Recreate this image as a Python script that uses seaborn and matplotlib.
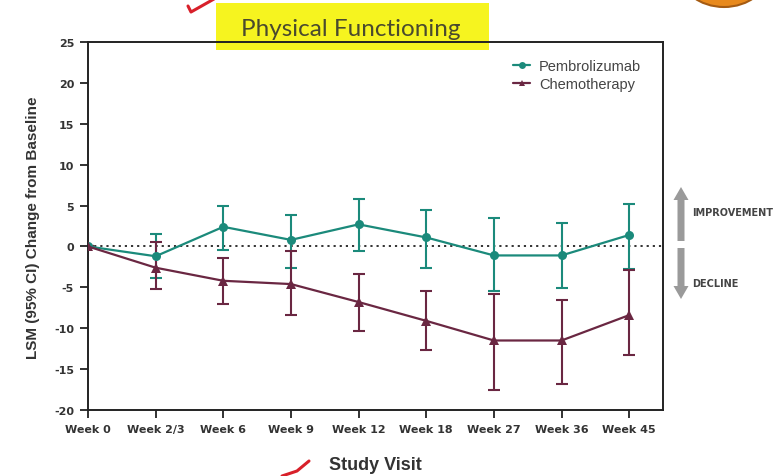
import numpy as np
import pandas as pd
import seaborn as sns
import matplotlib
matplotlib.use("Agg")
import matplotlib.pyplot as plt
from matplotlib.patches import FancyArrow, Ellipse, Rectangle
from matplotlib.lines import Line2D

# ---- data -------------------------------------------------------------
visits = ["Week 0", "Week 2/3", "Week 6", "Week 9", "Week 12",
          "Week 18", "Week 27", "Week 36", "Week 45"]

pembro_lsm = [0.0, -1.2, 2.4, 0.8, 2.7, 1.1, -1.1, -1.1, 1.4]
pembro_lo = [0.0, -3.9, -0.4, -2.6, -0.6, -2.6, -5.5, -5.1, -2.8]
pembro_hi = [0.0, 1.5, 4.9, 3.9, 5.8, 4.5, 3.5, 2.9, 5.2]

chemo_lsm = [0.0, -2.6, -4.2, -4.6, -6.8, -9.1, -11.5, -11.5, -8.4]
chemo_lo = [0.0, -5.2, -7.0, -8.4, -10.3, -12.7, -17.6, -16.8, -13.3]
chemo_hi = [0.0, 0.5, -1.4, -0.5, -3.4, -5.5, -5.8, -6.6, -2.9]

arms = ["Pembrolizumab", "Chemotherapy"]
yticks = [-20, -15, -10, -5, 0, 5, 10, 15, 20, 25]

TEAL = "#1b8a7b"
MAROON = "#6a2742"
W, H = 782, 477

df = pd.DataFrame({
    "pos": list(range(len(visits))) * 2,
    "lsm": pembro_lsm + chemo_lsm,
    "lo": pembro_lo + chemo_lo,
    "hi": pembro_hi + chemo_hi,
    "arm": [arms[0]] * len(visits) + [arms[1]] * len(visits),
})

sns.set_theme(style="ticks")
plt.rcParams["font.family"] = ["Liberation Sans", "DejaVu Sans"]

fig = plt.figure(figsize=(W / 100, H / 100), dpi=100)


def fx(px):
    return px / W


def fy(py):
    return 1 - py / H


# yellow highlight behind the heading
fig.patches.append(Rectangle((fx(216), fy(51)), fx(489) - fx(216), fy(4) - fy(51),
                             transform=fig.transFigure, facecolor="#f6f41f",
                             edgecolor="none", zorder=-5))

ax = fig.add_axes([fx(88), fy(411), fx(663) - fx(88), fy(43) - fy(411)])
ax.patch.set_alpha(0)

palette = {arms[0]: TEAL, arms[1]: MAROON}
sns.lineplot(data=df, x="pos", y="lsm", hue="arm", style="arm",
             markers={arms[0]: "o", arms[1]: "^"}, dashes=False,
             palette=palette, linewidth=1.6, markersize=6.5,
             markeredgewidth=0, ax=ax, zorder=4, legend=False)

for arm, color in palette.items():
    sub = df[df["arm"] == arm]
    err = [sub["lsm"] - sub["lo"], sub["hi"] - sub["lsm"]]
    ax.errorbar(sub["pos"], sub["lsm"], yerr=err, fmt="none",
                ecolor=color, elinewidth=1.5, capsize=4.5, capthick=1.5, zorder=3)

ax.axhline(0, color="#222222", linestyle=(0, (1.2, 2.2)), linewidth=1.3, zorder=2)

ax.set_xlim(0, 8.5)
ax.set_ylim(-20, 25)
ax.set_xticks(range(len(visits)))
ax.set_xticklabels(visits, fontsize=8, fontweight="bold", color="#333333",
                   family=["DejaVu Sans"])
ax.set_yticks(yticks)
ax.set_yticklabels([str(t) for t in yticks], fontsize=8, fontweight="bold",
                   color="#333333", family=["DejaVu Sans"])
ax.tick_params(axis="both", direction="out", length=6, width=1.3, color="#222222", pad=4)
for side in ["left", "bottom", "top", "right"]:
    ax.spines[side].set_visible(True)
    ax.spines[side].set_color("#222222")
    ax.spines[side].set_linewidth(1.4)
ax.set_xlabel("")
ax.set_ylabel("")

# legend
handles = [
    Line2D([0], [0], color=TEAL, marker="o", markersize=5, linewidth=1.6, markeredgewidth=0),
    Line2D([0], [0], color=MAROON, marker="^", markersize=5, linewidth=1.6, markeredgewidth=0),
]
leg = ax.legend(handles, arms, loc="upper right", bbox_to_anchor=(0.985, 0.99),
                frameon=False, fontsize=10.5, handlelength=1.2, handletextpad=0.6,
                labelspacing=0.3)
for t in leg.get_texts():
    t.set_color("#444444")

# heading, axis titles
fig.text(fx(351), fy(29), "Physical Functioning", ha="center", va="center",
         fontsize=17.5, color="#4a4a2e", family=["Lato", "DejaVu Sans"])
fig.text(fx(33), fy(228), "LSM (95% CI) Change from Baseline", rotation=90,
         ha="center", va="center", fontsize=11, fontweight="bold", color="#333333")
fig.text(fx(375), fy(466), "Study Visit", ha="center", va="center",
         fontsize=13, fontweight="bold", color="#333333")

# improvement / decline arrows
ac = "#9a9a9a"
fig.patches.append(FancyArrow(fx(681), fy(242), 0, fy(188) - fy(242),
                              width=fx(7), head_width=fx(15), head_length=fy(188) - fy(201),
                              length_includes_head=True, transform=fig.transFigure,
                              facecolor=ac, edgecolor="none"))
fig.patches.append(FancyArrow(fx(681), fy(249), 0, fy(300) - fy(249),
                              width=fx(7), head_width=fx(15), head_length=fy(287) - fy(300),
                              length_includes_head=True, transform=fig.transFigure,
                              facecolor=ac, edgecolor="none"))
fig.text(fx(692), fy(213), "IMPROVEMENT", ha="left", va="center", fontsize=7,
         fontweight="bold", color="#444444", family=["DejaVu Sans"])
fig.text(fx(692), fy(284), "DECLINE", ha="left", va="center", fontsize=7,
         fontweight="bold", color="#444444", family=["DejaVu Sans"])

# red pen marks and orange badge
fig.add_artist(Line2D([fx(188), fx(191), fx(214)], [fy(7), fy(13), fy(0)],
                      transform=fig.transFigure, color="#d8202a", linewidth=2.2,
                      solid_capstyle="round"))
fig.add_artist(Line2D([fx(282), fx(297), fx(309)], [fy(477), fy(472), fy(462)],
                      transform=fig.transFigure, color="#d8202a", linewidth=2.2,
                      solid_capstyle="round"))
fig.patches.append(Ellipse((fx(724), fy(-28)), fx(90), fy(0) - fy(72),
                           transform=fig.transFigure, facecolor="#e8891c",
                           edgecolor="#a55b12", linewidth=1.5))

fig.savefig("out.png", dpi=100)
